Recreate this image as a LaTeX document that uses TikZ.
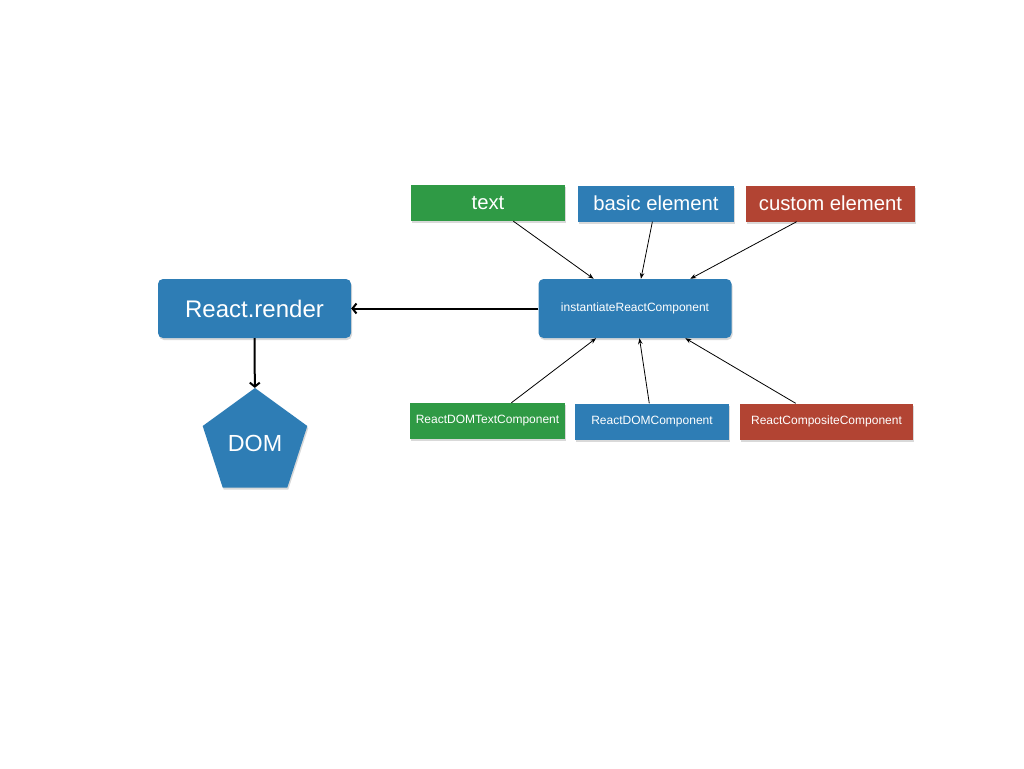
\documentclass[tikz,border=0pt]{standalone}
\usepackage{fontspec}
\setmainfont{Liberation Sans}
\usepackage{xcolor}
\usetikzlibrary{shapes.geometric,arrows.meta,shadows}

\definecolor{rgreen}{HTML}{2F9A45}
\definecolor{rblue}{HTML}{2E7DB5}
\definecolor{rred}{HTML}{B24433}

\begin{document}
\begin{tikzpicture}[
  x=1pt, y=-1pt,
  box/.style={draw=none, inner sep=0pt, text=white, minimum height=36pt,
    drop shadow={shadow xshift=1pt, shadow yshift=-2pt, opacity=0.3}},
  kind/.style={box, font=\fontsize{20.3}{24}\selectfont},
  impl/.style={box, font=\fontsize{12}{14}\selectfont},
  core/.style={box, rounded corners=5pt, fill=rblue, minimum width=193pt, minimum height=59pt},
  feed/.style={-{Stealth[length=6pt,width=4.5pt]}, line width=0.8pt},
  main/.style={-{Straight Barb[length=4pt,width=10pt]}, line width=2pt}
]
\useasboundingbox (0,0) rectangle (1024,768);

% Core nodes
\node[core, font=\fontsize{24}{28}\selectfont] (render) at (254.5,308.5) {React.render};
\node[core, font=\fontsize{12}{14}\selectfont] (inst) at (635,308.5) {instantiateReactComponent};
\node[box, regular polygon, regular polygon sides=5, minimum size=110pt, fill=rblue,
      font=\fontsize{23.3}{27}\selectfont] (dom) at (255,443) {DOM};

% Element kinds
\node[kind, fill=rgreen, minimum width=154pt] (text) at (488,203) {text};
\node[kind, fill=rblue, minimum width=156pt] (basic) at (656,203.5) {basic element};
\node[kind, fill=rred, minimum width=169pt] (custom) at (830.5,203.5) {custom element};

% Implementations
\node[impl, fill=rgreen, minimum width=155pt] (domtext) at (487.5,421) {ReactDOMTextComponent};
\node[impl, fill=rblue, minimum width=154pt] (domcomp) at (652,421.5) {ReactDOMComponent};
\node[impl, fill=rred, minimum width=173pt] (composite) at (826.5,421.5) {ReactCompositeComponent};

% Edges
\draw[main] (inst) -- (render);
\draw[main] (render) -- (dom);
\foreach \n in {text,basic,custom,domtext,domcomp,composite}
  \draw[feed] (\n) -- (inst);
\end{tikzpicture}
\end{document}
